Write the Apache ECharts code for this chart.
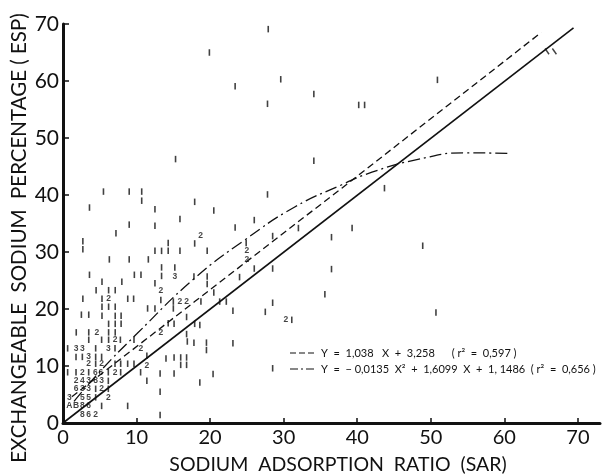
<!DOCTYPE html>
<html>
<head>
<meta charset="utf-8">
<script src="https://cdn.jsdelivr.net/npm/echarts@6/dist/echarts.min.js"></script>
<style>
  html, body { margin: 0; padding: 0; background: #fff; }
  #chart { width: 602px; height: 475px; }
</style>
</head>
<body>
<div id="chart"></div>
<script>
// tick labels
var xTicks = [0, 10, 20, 30, 40, 50, 60, 70];
var yTicks = [0, 10, 20, 30, 40, 50, 60, 70];

// single observations, plotted as short vertical bars  [SAR, ESP]
var singles = [
  [27.9, 69.1], [19.9, 65.0], [29.6, 60.3], [23.4, 59.1], [34.1, 57.7], [27.8, 56.0],
  [40.2, 55.8], [41.0, 55.8], [50.9, 60.2], [34.1, 46.0], [15.3, 46.3], [27.8, 40.1],
  [43.7, 41.2], [39.3, 34.2], [48.9, 31.1], [50.7, 19.4],
  [17.9, 38.8], [20.5, 37.3], [26.0, 35.6], [23.4, 34.3], [28.5, 32.8], [36.5, 32.6],
  [32.0, 34.2], [19.6, 30.2], [24.9, 31.6], [26.0, 27.1], [28.5, 27.1], [36.5, 27.0],
  [19.6, 25.7], [19.6, 24.4], [24.0, 25.6], [20.5, 22.9], [18.75, 21.3], [21.3, 21.3],
  [22.2, 21.3], [35.6, 22.6], [28.5, 21.1], [23.1, 19.7], [27.5, 19.5], [31.1, 18.1],
  [18.6, 17.2],
  [16.8, 15.6], [16.9, 14.3], [17.8, 14.1], [19.5, 14.1], [19.5, 12.8], [23.1, 14.0],
  [15.1, 11.5], [16.0, 11.5], [16.8, 11.5], [14.0, 11.3], [16.0, 10.2], [16.8, 10.2],
  [15.1, 8.7], [20.4, 8.6], [18.6, 7.1], [28.5, 9.6], [13.2, 8.7],
  [5.5, 40.6], [9.0, 40.6], [10.7, 40.6], [10.7, 39.0], [3.6, 37.8], [12.5, 37.5],
  [15.9, 35.8], [9.0, 34.8], [12.5, 34.6], [7.2, 33.3], [2.7, 31.9], [2.7, 30.5],
  [14.3, 31.6], [17.9, 31.5], [12.5, 30.2], [13.4, 30.2], [14.3, 30.2], [15.9, 30.2],
  [6.3, 28.7], [9.0, 28.7], [11.6, 28.7], [13.4, 27.3], [15.2, 27.3], [3.6, 26.0],
  [9.7, 26.0], [10.6, 26.0], [13.4, 25.8], [17.8, 25.7], [5.3, 24.8], [8.0, 24.8],
  [12.5, 24.5], [4.5, 23.3], [6.2, 23.3], [7.1, 23.3], [13.3, 21.6], [2.7, 21.8],
  [5.3, 21.8], [8.8, 21.8], [9.6, 21.8], [15.0, 21.3], [5.3, 20.4], [6.2, 20.4],
  [7.1, 20.4], [11.5, 20.1], [12.5, 20.1], [15.0, 20.1], [2.5, 19.0], [3.5, 19.0],
  [5.3, 18.8], [7.1, 18.8], [7.9, 18.8], [16.8, 18.6], [6.2, 17.4], [7.1, 17.4],
  [7.9, 17.4], [14.3, 17.5], [15.1, 17.4], [17.9, 17.4],
  [1.8, 15.9], [3.5, 15.9], [6.2, 15.9], [7.1, 15.9],
  [3.5, 14.6], [5.25, 14.6], [6.2, 14.6], [7.8, 14.6], [9.65, 14.6],
  [0.63, 13.1], [4.44, 13.1], [7.07, 13.1],
  [1.77, 11.6], [2.63, 11.6], [4.44, 11.6], [5.25, 11.6], [11.4, 11.8],
  [4.44, 10.4], [7.07, 10.4], [7.84, 10.4], [8.79, 10.4], [9.65, 10.4],
  [0.63, 8.9], [1.77, 8.9], [3.49, 8.9], [6.16, 8.9], [7.84, 8.9], [10.55, 8.9],
  [6.16, 7.4], [11.4, 7.4],
  [4.44, 6.0], [6.16, 6.0],
  [4.44, 4.5], [13.2, 5.5],
  [5.25, 3.0], [8.79, 3.0],
  [13.2, 1.4]
];

// two slanted marks near the upper end of the 1:1 line
var slashes = [[65.8, 65.2], [66.8, 65.2]];

// coincident observations, plotted as their count  [SAR, ESP, count]
var counts = [
  [4.6, 15.9, '2'], [7.07, 14.6, '2'],
  [1.77, 13.1, '3'], [2.63, 13.1, '3'], [6.16, 13.1, '3'], [10.6, 13.0, '2'],
  [3.49, 11.6, '3'],
  [3.49, 10.4, '2'], [5.25, 10.4, '2'], [11.4, 10.1, '2'],
  [2.63, 8.9, '2'], [4.4, 8.9, '6'], [5.15, 8.9, '6'], [7.07, 8.9, '2'],
  [1.77, 7.4, '2'], [2.63, 7.4, '4'], [3.49, 7.4, '3'], [4.44, 7.4, '8'], [5.25, 7.4, '3'],
  [1.77, 6.0, '6'], [2.63, 6.0, '3'], [3.49, 6.0, '3'], [5.25, 6.0, '2'],
  [0.86, 4.5, '3'], [2.63, 4.5, '5'], [3.49, 4.5, '5'], [6.16, 4.5, '2'],
  [0.86, 3.0, 'A'], [1.77, 3.0, 'B'], [2.63, 3.0, '8'], [3.49, 3.0, '6'],
  [2.63, 1.4, '8'], [3.49, 1.4, '6'], [4.44, 1.4, '2'],
  [13.3, 15.9, '2'], [13.3, 23.2, '2'], [15.2, 25.7, '3'], [6.2, 21.8, '2'],
  [15.9, 21.3, '2'], [16.8, 21.3, '2'], [18.7, 32.9, '2'], [25.0, 30.2, '2'],
  [25.0, 28.6, '2'], [30.3, 18.1, '2']
];

// lines
var lineOneToOne = [[0, 0], [69.4, 69.3]];
var lineLinear = [[1.2, 4.6], [17.9, 21.3], [37.9, 41.2], [65.0, 68.5]];
var lineQuad = [
  [1.5, 3.8], [5, 9.0], [10, 15.6], [17.9, 25.4], [24.7, 32.1], [31.5, 37.9],
  [37.9, 41.8], [42.0, 44.0], [48.1, 46.2], [54.6, 47.4], [60.5, 47.3]
];

var legendLinear = 'Y  =  1,038   X  +  3,258      ( r²  =  0,597 )';
var legendQuad = 'Y  =  \u2212 0,0135  X²  +  1,6099  X  +  1, 1486  ( r²  =  0,656 )';

var ink = '#111';
var font = 'Lato, "DejaVu Sans", sans-serif';

var chart = echarts.init(document.getElementById('chart'), null, { renderer: 'canvas' });
chart.setOption({
  animation: false,
  backgroundColor: '#fff',
  grid: { left: 63, right: 2, top: 24, bottom: 52 },
  xAxis: {
    type: 'value',
    min: 0,
    max: 73,
    interval: 10,
    axisLine: { lineStyle: { color: ink, width: 3 } },
    axisTick: { inside: true, length: 5, lineStyle: { color: ink, width: 1.5 }, customValues: xTicks },
    axisLabel: { color: ink, fontSize: 20, fontFamily: font, margin: 5, customValues: xTicks },
    splitLine: { show: false }
  },
  yAxis: {
    type: 'value',
    min: 0,
    max: 70,
    interval: 10,
    axisLine: { show: true, lineStyle: { color: ink, width: 3 } },
    axisTick: { show: true, inside: true, length: 6, lineStyle: { color: ink, width: 1.5 }, customValues: yTicks },
    axisLabel: { color: ink, fontSize: 21, fontFamily: font, margin: 4, customValues: yTicks },
    splitLine: { show: false }
  },
  graphic: [
    {
      type: 'text', x: 19, y: 238, rotation: Math.PI / 2,
      style: {
        text: 'EXCHANGEABLE  SODIUM  PERCENTAGE ( ESP)',
        fill: ink, font: '20.5px ' + font, align: 'center', verticalAlign: 'middle'
      }
    },
    {
      type: 'text', x: 338, y: 465,
      style: {
        text: 'SODIUM  ADSORPTION  RATIO  (SAR)',
        fill: ink, font: '19.5px ' + font, align: 'center', verticalAlign: 'middle'
      }
    },
    {
      type: 'line', shape: { x1: 290, y1: 353, x2: 314, y2: 353 },
      style: { stroke: ink, lineWidth: 1.2, lineDash: [6, 3] }
    },
    {
      type: 'line', shape: { x1: 290, y1: 369, x2: 314, y2: 369 },
      style: { stroke: ink, lineWidth: 1.2, lineDash: [8, 3, 2, 3] }
    },
    {
      type: 'text', x: 321, y: 353,
      style: { text: legendLinear, fill: ink, font: '11px ' + font, verticalAlign: 'middle' }
    },
    {
      type: 'text', x: 321, y: 369,
      style: { text: legendQuad, fill: ink, font: '11px ' + font, verticalAlign: 'middle' }
    }
  ],
  series: [
    {
      type: 'line', data: lineOneToOne, symbol: 'none',
      lineStyle: { color: ink, width: 1.6 }, z: 3
    },
    {
      type: 'line', data: lineLinear, symbol: 'none',
      lineStyle: { color: ink, width: 1.3, type: [7, 4] }, z: 3
    },
    {
      type: 'line', data: lineQuad, symbol: 'none', smooth: true,
      lineStyle: { color: ink, width: 1.3, type: [12, 4, 2, 4] }, z: 3
    },
    {
      type: 'scatter', data: singles, symbol: 'rect', symbolSize: [1.6, 6.5],
      itemStyle: { color: ink }, z: 4
    },
    {
      type: 'scatter', data: slashes, symbol: 'rect', symbolSize: [1.4, 7], symbolRotate: 35,
      itemStyle: { color: ink }, z: 4
    },
    {
      type: 'scatter', data: counts, symbolSize: 1, itemStyle: { color: 'rgba(0,0,0,0)' },
      label: {
        show: true, position: 'inside', color: ink, fontSize: 8.5, fontWeight: 'bold',
        fontFamily: '"Liberation Sans", Arial, sans-serif',
        formatter: function (p) { return p.value[2]; }
      },
      z: 5
    }
  ]
});
</script>
</body>
</html>
